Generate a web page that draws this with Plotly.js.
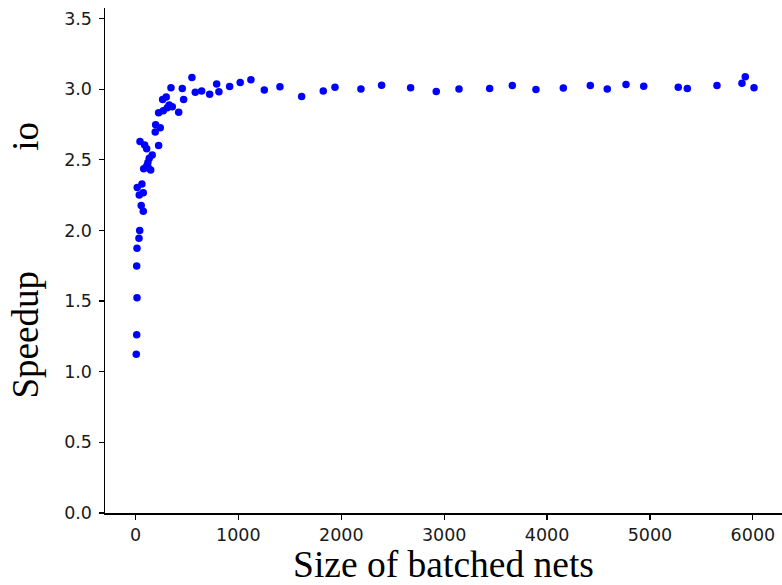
<!DOCTYPE html>
<html>
<head>
<meta charset="utf-8">
<script src="https://cdn.plot.ly/plotly-3.0.1.min.js"></script>
<style>html,body{margin:0;padding:0;background:#fff;}#chart{width:782px;height:585px;}</style>
</head>
<body>
<div id="chart"></div>
<script>
const batchSize = [8, 12, 15, 15, 34, 41, 12, 37, 76, 17, 63, 56, 76,
  80, 148, 124, 109, 121, 134, 163, 109, 89, 44, 225, 192, 241, 196,
  225, 420, 270, 309, 358, 328, 468, 264, 299, 345, 455, 549, 581, 643,
  721, 789, 811, 915, 1018, 1122, 1252, 1404, 1615, 1825, 1939, 2191,
  2392, 2674, 2923, 3144, 3442, 3662, 3892, 4158, 4420, 4585, 4767,
  4939, 5275, 5363, 5651, 5894, 5926, 6011];
const speedup = [1.123, 1.261, 1.523, 1.873, 1.944, 2.0, 1.748, 2.25, 2.135, 2.304, 2.328, 2.177, 2.266,
  2.436, 2.427, 2.443, 2.455, 2.481, 2.51, 2.533, 2.577, 2.604, 2.63, 2.601, 2.696, 2.726, 2.747,
  2.832, 2.837, 2.846, 2.868, 2.875, 2.887, 2.927, 2.927, 2.945, 3.009, 3.005, 3.083, 2.977, 2.986,
  2.964, 3.037, 2.981, 3.019, 3.047, 3.066, 2.993, 3.016, 2.948, 2.986, 3.014, 3.0,
  3.028, 3.009, 2.983, 3.0, 3.005, 3.026, 2.998, 3.007, 3.026, 3.0, 3.033,
  3.021, 3.014, 3.005, 3.026, 3.042, 3.087, 3.009];

const xTicks = [0, 1000, 2000, 3000, 4000, 5000, 6000];
const yTicks = [0, 0.5, 1.0, 1.5, 2.0, 2.5, 3.0, 3.5];
const xTitle = 'Size of batched nets';
const yTitle = 'Speedup' + '\u00a0'.repeat(13) + 'io';

const tickFont = {family: 'DejaVu Sans', size: 17.5, color: '#1a1a1a'};
const serif = 'Liberation Serif, Times New Roman, serif';

Plotly.newPlot('chart', [{
  x: batchSize, y: speedup, type: 'scatter', mode: 'markers',
  marker: {color: '#0000ff', size: 7.5, line: {width: 0}}
}], {
  width: 782, height: 585,
  margin: {l: 105, r: 0, t: 8, b: 72},
  paper_bgcolor: '#fff', plot_bgcolor: '#fff',
  showlegend: false,
  xaxis: {
    range: [-296, 6283], tickvals: xTicks, ticktext: xTicks.map(String),
    ticks: 'outside', ticklen: 5, tickwidth: 1.2, tickcolor: '#000',
    showline: true, linecolor: '#000', linewidth: 1.5, showgrid: false, zeroline: false,
    tickfont: tickFont,
    title: {text: xTitle, font: {family: serif, size: 37.5, color: '#000'}, standoff: 13}
  },
  yaxis: {
    range: [0, 3.574], tickvals: yTicks, ticktext: yTicks.map(v => v.toFixed(1)),
    ticks: 'outside', ticklen: 5, tickwidth: 1.2, tickcolor: '#000',
    showline: true, linecolor: '#000', linewidth: 1.5, showgrid: false, zeroline: false,
    tickfont: tickFont, ticklabelstandoff: 3
  },
  annotations: [{
    text: yTitle, textangle: -90, xref: 'paper', yref: 'paper',
    x: 0, y: 0.5, xanchor: 'center', yanchor: 'middle', xshift: -80, yshift: 0,
    showarrow: false, font: {family: serif, size: 37, color: '#000'}
  }]
}, {displayModeBar: false, staticPlot: true});
</script>
</body>
</html>
